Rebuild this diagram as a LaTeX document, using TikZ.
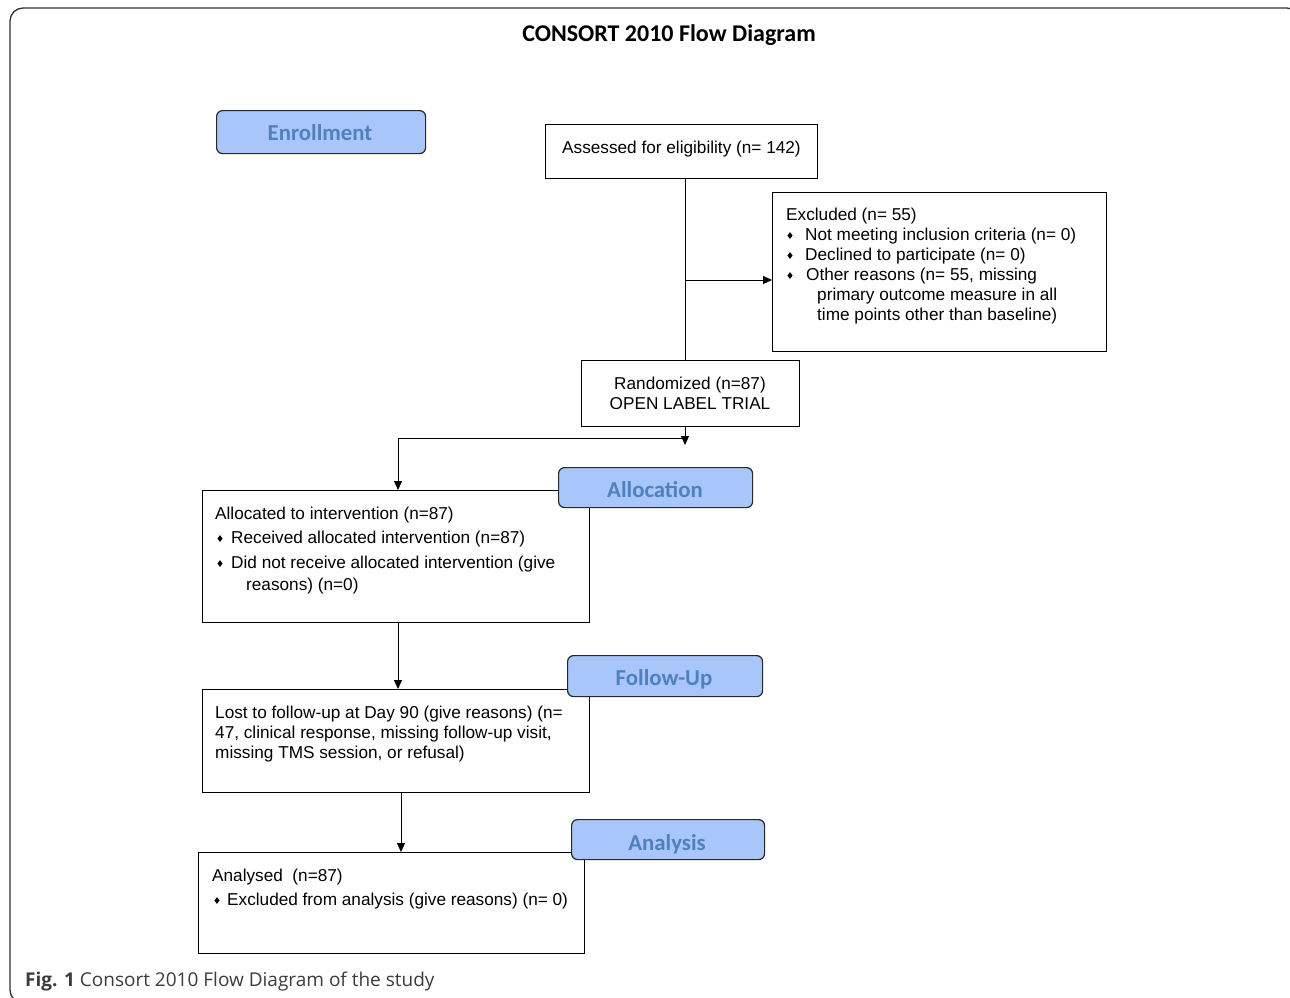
\documentclass[tikz,border=0pt]{standalone}
\usepackage{fontspec}
\setmainfont{Liberation Sans}
\newfontfamily\calib{Carlito}
\newfontfamily\capfont{Open Sans}
\newfontfamily\dejavu{DejaVu Sans}
\usetikzlibrary{arrows.meta}
\definecolor{stagefill}{RGB}{168,198,250}
\definecolor{stagetext}{RGB}{79,129,189}
\definecolor{stageedge}{RGB}{40,40,40}
\definecolor{capgray}{RGB}{60,60,60}
\definecolor{framegray}{RGB}{50,50,50}
\newcommand\mybul{\makebox[0pt]{\raisebox{0.8pt}{\dejavu\fontsize{9.5}{10}\selectfont ♦}}}
\begin{document}
\begin{tikzpicture}[x=1pt,y=-1pt,
  cbox/.style={draw=black, line width=1pt, inner sep=0pt, anchor=north west},
  stage/.style={draw=stageedge, line width=1.2pt, fill=stagefill, rounded corners=6pt,
    inner sep=0pt, anchor=north west, text=stagetext,
    font=\calib\bfseries\fontsize{22.8}{26}\selectfont},
  stagetxt/.style={text=stagetext, inner sep=0pt, anchor=base,
    font=\calib\bfseries\fontsize{22.8}{26}\selectfont},
  txt/.style={inner sep=0pt, anchor=north west, align=left,
    font=\fontsize{17.2}{20}\selectfont},
  conn/.style={draw=black, line width=1pt},
  arr/.style={conn, -{Triangle[length=9pt,width=8pt]}}]
\useasboundingbox (0,0) rectangle (1290,998);
\begin{scope}
\clip (0,0) rectangle (1290,998);
\draw[framegray, line width=1.3pt, rounded corners=13pt] (10,8) rectangle (1300,1003);
\end{scope}

\node[font=\calib\bfseries\fontsize{24}{28}\selectfont, anchor=base, inner sep=0pt] (title) at (669,42) {CONSORT 2010 Flow Diagram};

% boxes
\node[cbox, minimum width=272pt, minimum height=54pt] (assess) at (545,124) {};
\node[cbox, minimum width=334pt, minimum height=159pt] (excl) at (772,192) {};
\node[cbox, minimum width=218pt, minimum height=66pt] (rand) at (581,360) {};
\node[cbox, minimum width=387pt, minimum height=132pt] (alloc) at (202,490) {};
\node[cbox, minimum width=387pt, minimum height=103pt] (lost) at (202,689) {};
\node[cbox, minimum width=386pt, minimum height=101pt] (anal) at (198,852) {};

% texts
\node[txt] (assessT) at (562,139) {\strut Assessed for eligibility (n= 142)};
\node[txt, align=center, anchor=north] (randT) at (690,375) {\strut Randomized (n=87)\\\strut OPEN LABEL TRIAL};
\node[txt] (exclT) at (780,206) {%
\strut\hspace*{6pt}Excluded (n= 55)\\
\strut\hspace*{10pt}\mybul\hspace*{15pt}Not meeting inclusion criteria (n= 0)\\
\strut\hspace*{10pt}\mybul\hspace*{15pt}Declined to participate (n= 0)\\
\strut\hspace*{10pt}\mybul\hspace*{16pt}Other reasons (n= 55, missing\\
\strut\hspace*{37pt}primary outcome measure in all\\
\strut\hspace*{37pt}time points other than baseline)};
\node[txt] (allocT) at (215,505) {%
\strut Allocated to intervention (n=87)\\[4pt]
\strut\hspace*{5pt}\mybul\hspace*{11pt}Received allocated intervention (n=87)\\[5pt]
\strut\hspace*{5pt}\mybul\hspace*{11pt}Did not receive allocated intervention (give\\[2pt]
\strut\hspace*{31pt}reasons) (n=0)};
\node[txt] (lostT) at (215,704) {%
\strut Lost to follow-up at Day 90 (give reasons) (n=\\
\strut 47, clinical response, missing follow-up visit,\\
\strut missing TMS session, or refusal)};
\node[txt] (analT) at (212,867) {%
\strut Analysed\ \ (n=87)\\[4pt]
\strut\hspace*{5pt}\mybul\hspace*{10pt}Excluded from analysis (give reasons) (n= 0)};

% connectors
\coordinate (trunk) at (685,0);
\coordinate (jexc) at (685,280);
\coordinate (rtip) at (685,445);
\coordinate (split) at (685,438);
\coordinate (lcorner) at (398,438);
\coordinate (c2) at (398,0);
\coordinate (c3) at (401,0);
\draw[conn] (assess.south -| trunk) -- (rand.north -| trunk);
\draw[arr] (jexc) -- (jexc -| excl.west);
\draw[arr] (rand.south -| trunk) -- (rtip);
\draw[arr] (split) -- (lcorner) -- (alloc.north -| lcorner);
\draw[arr] (alloc.south -| c2) -- (lost.north -| c2);
\draw[arr] (lost.south -| c3) -- (anal.north -| c3);

% stage labels
\node[stage, minimum width=209pt, minimum height=43pt] (enr) at (216,110) {};
\node[stage, minimum width=194pt, minimum height=40pt] (allocS) at (558,467) {};
\node[stage, minimum width=195pt, minimum height=41pt] (fupS) at (567,655) {};
\node[stage, minimum width=193pt, minimum height=40pt] (anaS) at (571,819) {};
\node[stagetxt] (enrT) at (320,140) {Enrollment};
\node[stagetxt] (allocST) at (655,497) {Allocation};
\node[stagetxt] (fupST) at (664,685) {Follow-Up};
\node[stagetxt] (anaST) at (667,850) {Analysis};

% caption
\node[anchor=base west, inner sep=0pt, text=capgray, font=\capfont\fontsize{19}{22}\selectfont] (cap) at (25,986) {\textbf{Fig. 1} Consort 2010 Flow Diagram of the study};
\end{tikzpicture}
\end{document}
